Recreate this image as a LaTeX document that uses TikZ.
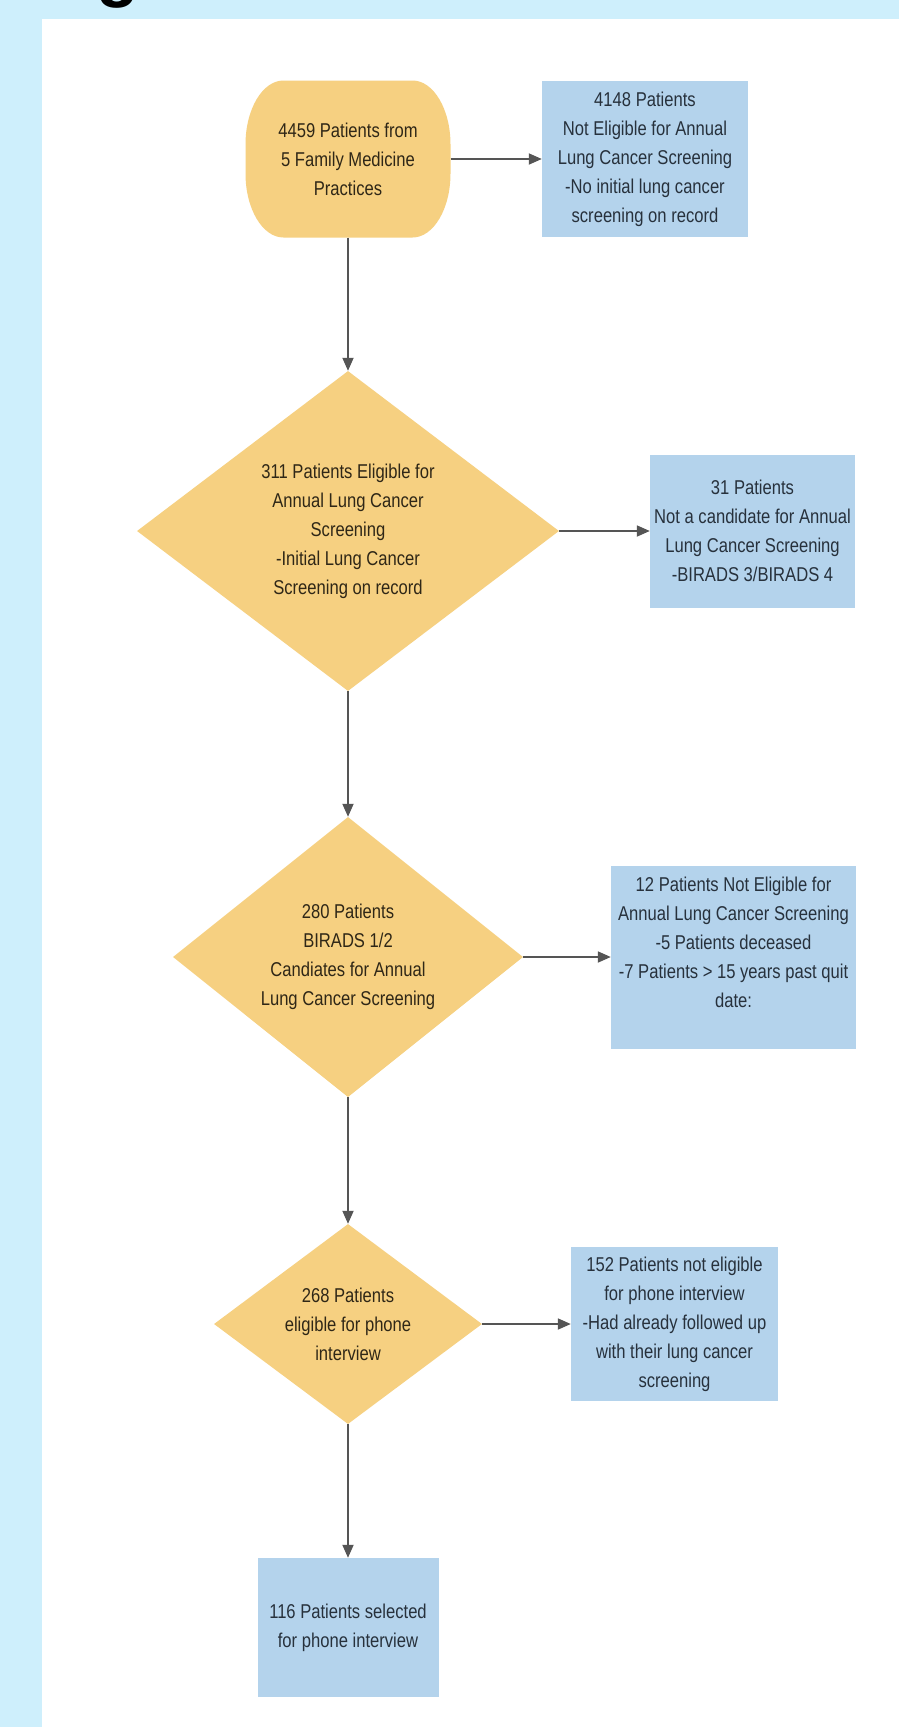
\documentclass[tikz,border=0pt]{standalone}
\usepackage{fontspec}
\setmainfont{Liberation Sans}[FakeStretch=0.83]
\newfontfamily\titlefont{Liberation Sans}
\usetikzlibrary{shapes.geometric,arrows.meta}
\definecolor{bgblue}{HTML}{CEEFFC}
\definecolor{nodeyellow}{HTML}{F6D081}
\definecolor{boxblue}{HTML}{B4D3EC}
\definecolor{arrowgray}{HTML}{555555}
\definecolor{ytext}{HTML}{2F2717}
\definecolor{btext}{HTML}{27313C}
\begin{document}
\begin{tikzpicture}[x=1pt,y=-1pt,
  base/.style={align=center, font=\fontsize{20}{29}\selectfont, inner sep=0pt},
  startnode/.style={base, text=ytext, rectangle},
  decision/.style={base, fill=nodeyellow, text=ytext, diamond},
  outbox/.style={base, fill=boxblue, text=btext, rectangle},
  flow/.style={draw=arrowgray, line width=1.8pt, -{Triangle[length=13pt,width=11pt]}},
  cornerarc/.style={x radius=38pt, y radius=64pt}
]
\fill[bgblue] (0,0) rectangle (899,1727);
\fill[white] (42,19) rectangle (899,1727);
\useasboundingbox (0,0) rectangle (899,1727);

\node[font=\titlefont\bfseries\fontsize{70}{70}\selectfont, anchor=base west, inner sep=0pt, text=black] (title) at (96,-7) {g};

% start terminal: soft elliptical corners
\coordinate (ac) at (348,159);
\fill[nodeyellow] ([shift={(-64.5pt,78.5pt)}]ac) -- ([shift={(64.5pt,78.5pt)}]ac)
  arc[start angle=90, end angle=0, cornerarc] -- ([shift={(102.5pt,-14.5pt)}]ac)
  arc[start angle=0, end angle=-90, cornerarc] -- ([shift={(-64.5pt,-78.5pt)}]ac)
  arc[start angle=-90, end angle=-180, cornerarc] -- ([shift={(-102.5pt,14.5pt)}]ac)
  arc[start angle=180, end angle=90, cornerarc] -- cycle;
\node[startnode, minimum width=205pt, minimum height=157pt] (a) at (ac)
  {4459 Patients from\\5 Family Medicine\\Practices};
\node[outbox, minimum width=206pt, minimum height=156pt] (b) at (645,159)
  {4148 Patients\\Not Eligible for Annual\\Lung Cancer Screening\\-No initial lung cancer\\screening on record};

\node[decision, minimum width=422pt, minimum height=320pt] (c) at (348,531)
  {311 Patients Eligible for\\Annual Lung Cancer\\Screening\\-Initial Lung Cancer\\Screening on record};
\node[outbox, minimum width=205pt, minimum height=153pt] (d) at (752.5,531)
  {31 Patients\\Not a candidate for Annual\\Lung Cancer Screening\\-BIRADS 3/BIRADS 4};

\node[decision, minimum width=350pt, minimum height=260pt] (e) at (348,957)
  {280 Patients\\BIRADS 1/2\\Candiates for Annual\\Lung Cancer Screening};
\node[outbox, minimum width=245pt, minimum height=183pt] (f) at (733.5,957)
  {12 Patients Not Eligible for\\Annual Lung Cancer Screening\\-5 Patients deceased\\-7 Patients > 15 years past quit\\date:\\\mbox{}};

\node[decision, minimum width=268pt, minimum height=200pt] (g) at (348,1324)
  {268 Patients\\eligible for phone\\interview};
\node[outbox, minimum width=207pt, minimum height=154pt] (h) at (674.5,1324)
  {152 Patients not eligible\\for phone interview\\-Had already followed up\\with their lung cancer\\screening};

\node[outbox, minimum width=181pt, minimum height=139pt] (i) at (348,1627.5)
  {116 Patients selected\\for phone interview};

\draw[flow] (a) -- (b);
\draw[flow] (a) -- (c);
\draw[flow] (c) -- (d);
\draw[flow] (c) -- (e);
\draw[flow] (e) -- (f);
\draw[flow] (e) -- (g);
\draw[flow] (g) -- (h);
\draw[flow] (g) -- (i);
\end{tikzpicture}
\end{document}
